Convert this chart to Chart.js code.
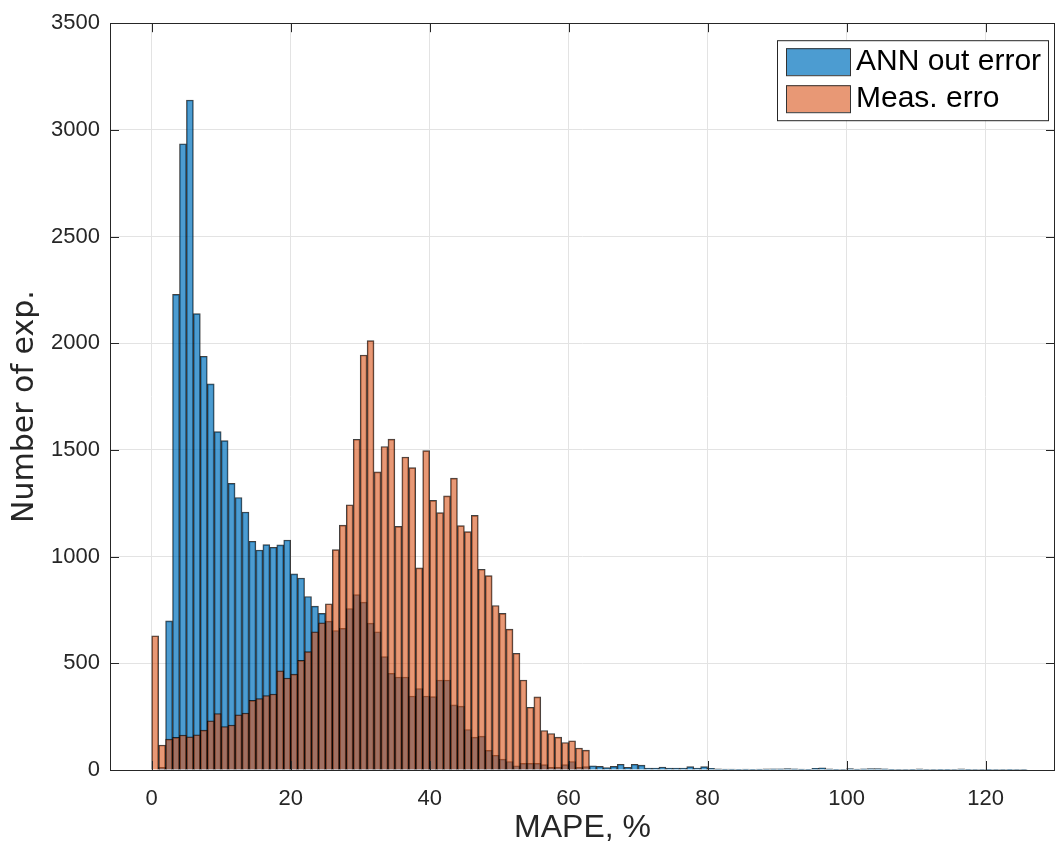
<!DOCTYPE html>
<html>
<head>
<meta charset="utf-8">
<title>MAPE histogram</title>
<script src="https://cdn.jsdelivr.net/npm/chart.js@4.4.1/dist/chart.umd.min.js"></script>
<style>
  html, body { margin: 0; padding: 0; background: #fff; }
  #wrap { width: 1056px; height: 845px; position: relative; }
</style>
</head>
<body>
<div id="wrap"><canvas id="hist"></canvas></div>
<script>
// bins are 1 % wide, first edge at 0
const binStart = 0;
const binWidth = 1;

const seriesNames = ['ANN out error', 'Meas. erro'];
const xTitle = 'MAPE, %';
const yTitle = 'Number of exp.';

// counts per bin, ANN output error
const annCounts = [
  0, 12, 699, 2229, 2935, 3140, 2139, 1939, 1810, 1586,
  1544, 1343, 1277, 1209, 1072, 1031, 1056, 1044, 1055, 1078,
  919, 900, 813, 768, 734, 698, 654, 664, 757, 822,
  787, 688, 648, 531, 453, 436, 436, 347, 382, 347,
  344, 422, 422, 305, 299, 190, 154, 159, 92, 69,
  51, 40, 20, 31, 31, 31, 25, 12, 12, 25,
  40, 12, 16, 20, 17, 11, 17, 27, 12, 27,
  23, 9, 9, 14, 9, 9, 9, 16, 9, 16,
  8, 5, 4, 4, 3, 4, 3, 4, 5, 6,
  6, 7, 6, 4, 3, 8, 10, 5, 3, 2,
  7, 4, 6, 7, 7, 6, 3, 2, 2, 3,
  5, 2, 2, 3, 3, 2, 5, 3, 2, 2,
  3, 2, 2, 3, 2, 2
];

// counts per bin, measurement error
const measCounts = [
  629, 117, 145, 153, 164, 156, 165, 187, 231, 265,
  204, 211, 259, 267, 326, 335, 349, 356, 465, 431,
  449, 514, 555, 648, 690, 779, 1033, 1148, 1243, 1550,
  1945, 2012, 1397, 1516, 1551, 1142, 1467, 1417, 947, 1497,
  1264, 1206, 1285, 1368, 1145, 1117, 1193, 941, 911, 771,
  734, 660, 547, 422, 294, 343, 185, 171, 154, 129,
  137, 103, 93
];

const xTicks = [0, 20, 40, 60, 80, 100, 120];
const yTicks = [0, 500, 1000, 1500, 2000, 2500, 3000, 3500];

const axisColor = '#262626';
const font = "'Liberation Sans', Arial, Helvetica, sans-serif";

// bar centred in the middle of each bin
function toPoints(counts) {
  return counts.map((v, i) => ({ x: binStart + (i + 0.5) * binWidth, y: v }));
}

// frame around the plot with inward tick marks on all four sides
const axesBox = {
  id: 'axesBox',
  afterDatasetsDraw(chart) {
    const { ctx, chartArea: a, scales } = chart;
    const len = 9;
    ctx.save();
    ctx.strokeStyle = axisColor;
    ctx.lineWidth = 1;
    ctx.beginPath();
    xTicks.forEach(v => {
      const px = Math.round(scales.x.getPixelForValue(v)) + 0.5;
      ctx.moveTo(px, a.bottom);
      ctx.lineTo(px, a.bottom - len);
      ctx.moveTo(px, a.top);
      ctx.lineTo(px, a.top + len);
    });
    yTicks.forEach(v => {
      const py = Math.round(scales.y.getPixelForValue(v)) + 0.5;
      ctx.moveTo(a.left, py);
      ctx.lineTo(a.left + len, py);
      ctx.moveTo(a.right, py);
      ctx.lineTo(a.right - len, py);
    });
    ctx.stroke();
    ctx.strokeRect(Math.round(a.left) + 0.5, Math.round(a.top) + 0.5,
                   Math.round(a.width) - 1, Math.round(a.height));
    ctx.restore();
  }
};

// rotated y label, sitting a little below the axis middle
const yLabel = {
  id: 'yLabel',
  afterDraw(chart) {
    const { ctx, chartArea: a } = chart;
    ctx.save();
    ctx.translate(25, (a.top + a.bottom) / 2 + 10);
    ctx.rotate(-Math.PI / 2);
    ctx.font = "30px 'DejaVu Sans', sans-serif";
    ctx.fillStyle = axisColor;
    ctx.textAlign = 'center';
    ctx.textBaseline = 'middle';
    ctx.fillText(yTitle, 0, 0);
    ctx.restore();
  }
};

// boxed legend in the upper right corner of the plot
const boxLegend = {
  id: 'boxLegend',
  afterDraw(chart) {
    const { ctx, chartArea: a } = chart;
    const w = 271, h = 80;
    const right = a.right - 7, top = a.top + 17;
    const left = right - w;
    ctx.save();
    ctx.fillStyle = '#fff';
    ctx.fillRect(left, top, w, h);
    ctx.strokeStyle = axisColor;
    ctx.lineWidth = 1;
    ctx.strokeRect(left + 0.5, top + 0.5, w, h);
    ctx.font = '30px ' + font;
    ctx.textBaseline = 'middle';
    chart.data.datasets.forEach((ds, i) => {
      const sy = top + 8 + i * 37;
      ctx.fillStyle = ds.backgroundColor;
      ctx.fillRect(left + 9, sy, 64, 27);
      ctx.strokeStyle = '#333';
      ctx.strokeRect(left + 9.5, sy + 0.5, 64, 27);
      ctx.fillStyle = '#000';
      ctx.fillText(ds.label, left + 79, sy + 14);
    });
    ctx.restore();
  }
};

const ctx = document.getElementById('hist').getContext('2d');
new Chart(ctx, {
  type: 'bar',
  data: {
    datasets: [
      {
        label: seriesNames[0],
        data: toPoints(annCounts),
        backgroundColor: 'rgba(0, 114, 189, 0.7)',
        borderColor: 'rgba(0, 0, 0, 0.75)',
        borderWidth: 1,
        grouped: false,
        order: 2,
        barPercentage: 1,
        categoryPercentage: 1
      },
      {
        label: seriesNames[1],
        data: toPoints(measCounts),
        backgroundColor: 'rgba(217, 83, 25, 0.6)',
        borderColor: 'rgba(0, 0, 0, 0.75)',
        borderWidth: 1,
        grouped: false,
        order: 1,
        barPercentage: 1,
        categoryPercentage: 1
      }
    ]
  },
  options: {
    responsive: true,
    maintainAspectRatio: false,
    animation: false,
    layout: { padding: { top: 22, right: 1, left: 0, bottom: 0 } },
    plugins: {
      legend: { display: false },
      tooltip: { enabled: false }
    },
    scales: {
      x: {
        type: 'linear',
        offset: false,
        min: -6,
        max: 130,
        afterBuildTicks: s => { s.ticks = xTicks.map(v => ({ value: v })); },
        afterFit: s => { s.height = 75; },
        grid: { color: '#e3e3e3', drawTicks: false, offset: false },
        border: { display: false },
        ticks: {
          padding: 16,
          color: axisColor,
          font: { family: font, size: 22 },
          callback: v => String(v)
        },
        title: {
          display: true,
          text: xTitle,
          color: axisColor,
          font: { family: font, size: 32, lineHeight: 1 },
          padding: { top: 0, bottom: 1 }
        }
      },
      y: {
        min: 0,
        max: 3500,
        afterBuildTicks: s => { s.ticks = yTicks.map(v => ({ value: v })); },
        afterFit: s => { s.width = 110; },
        grid: { color: '#e3e3e3', drawTicks: false },
        border: { display: false },
        ticks: {
          padding: 10,
          color: axisColor,
          font: { family: font, size: 22 },
          callback: v => String(v)
        }
      }
    }
  },
  plugins: [axesBox, yLabel, boxLegend]
});
</script>
</body>
</html>
